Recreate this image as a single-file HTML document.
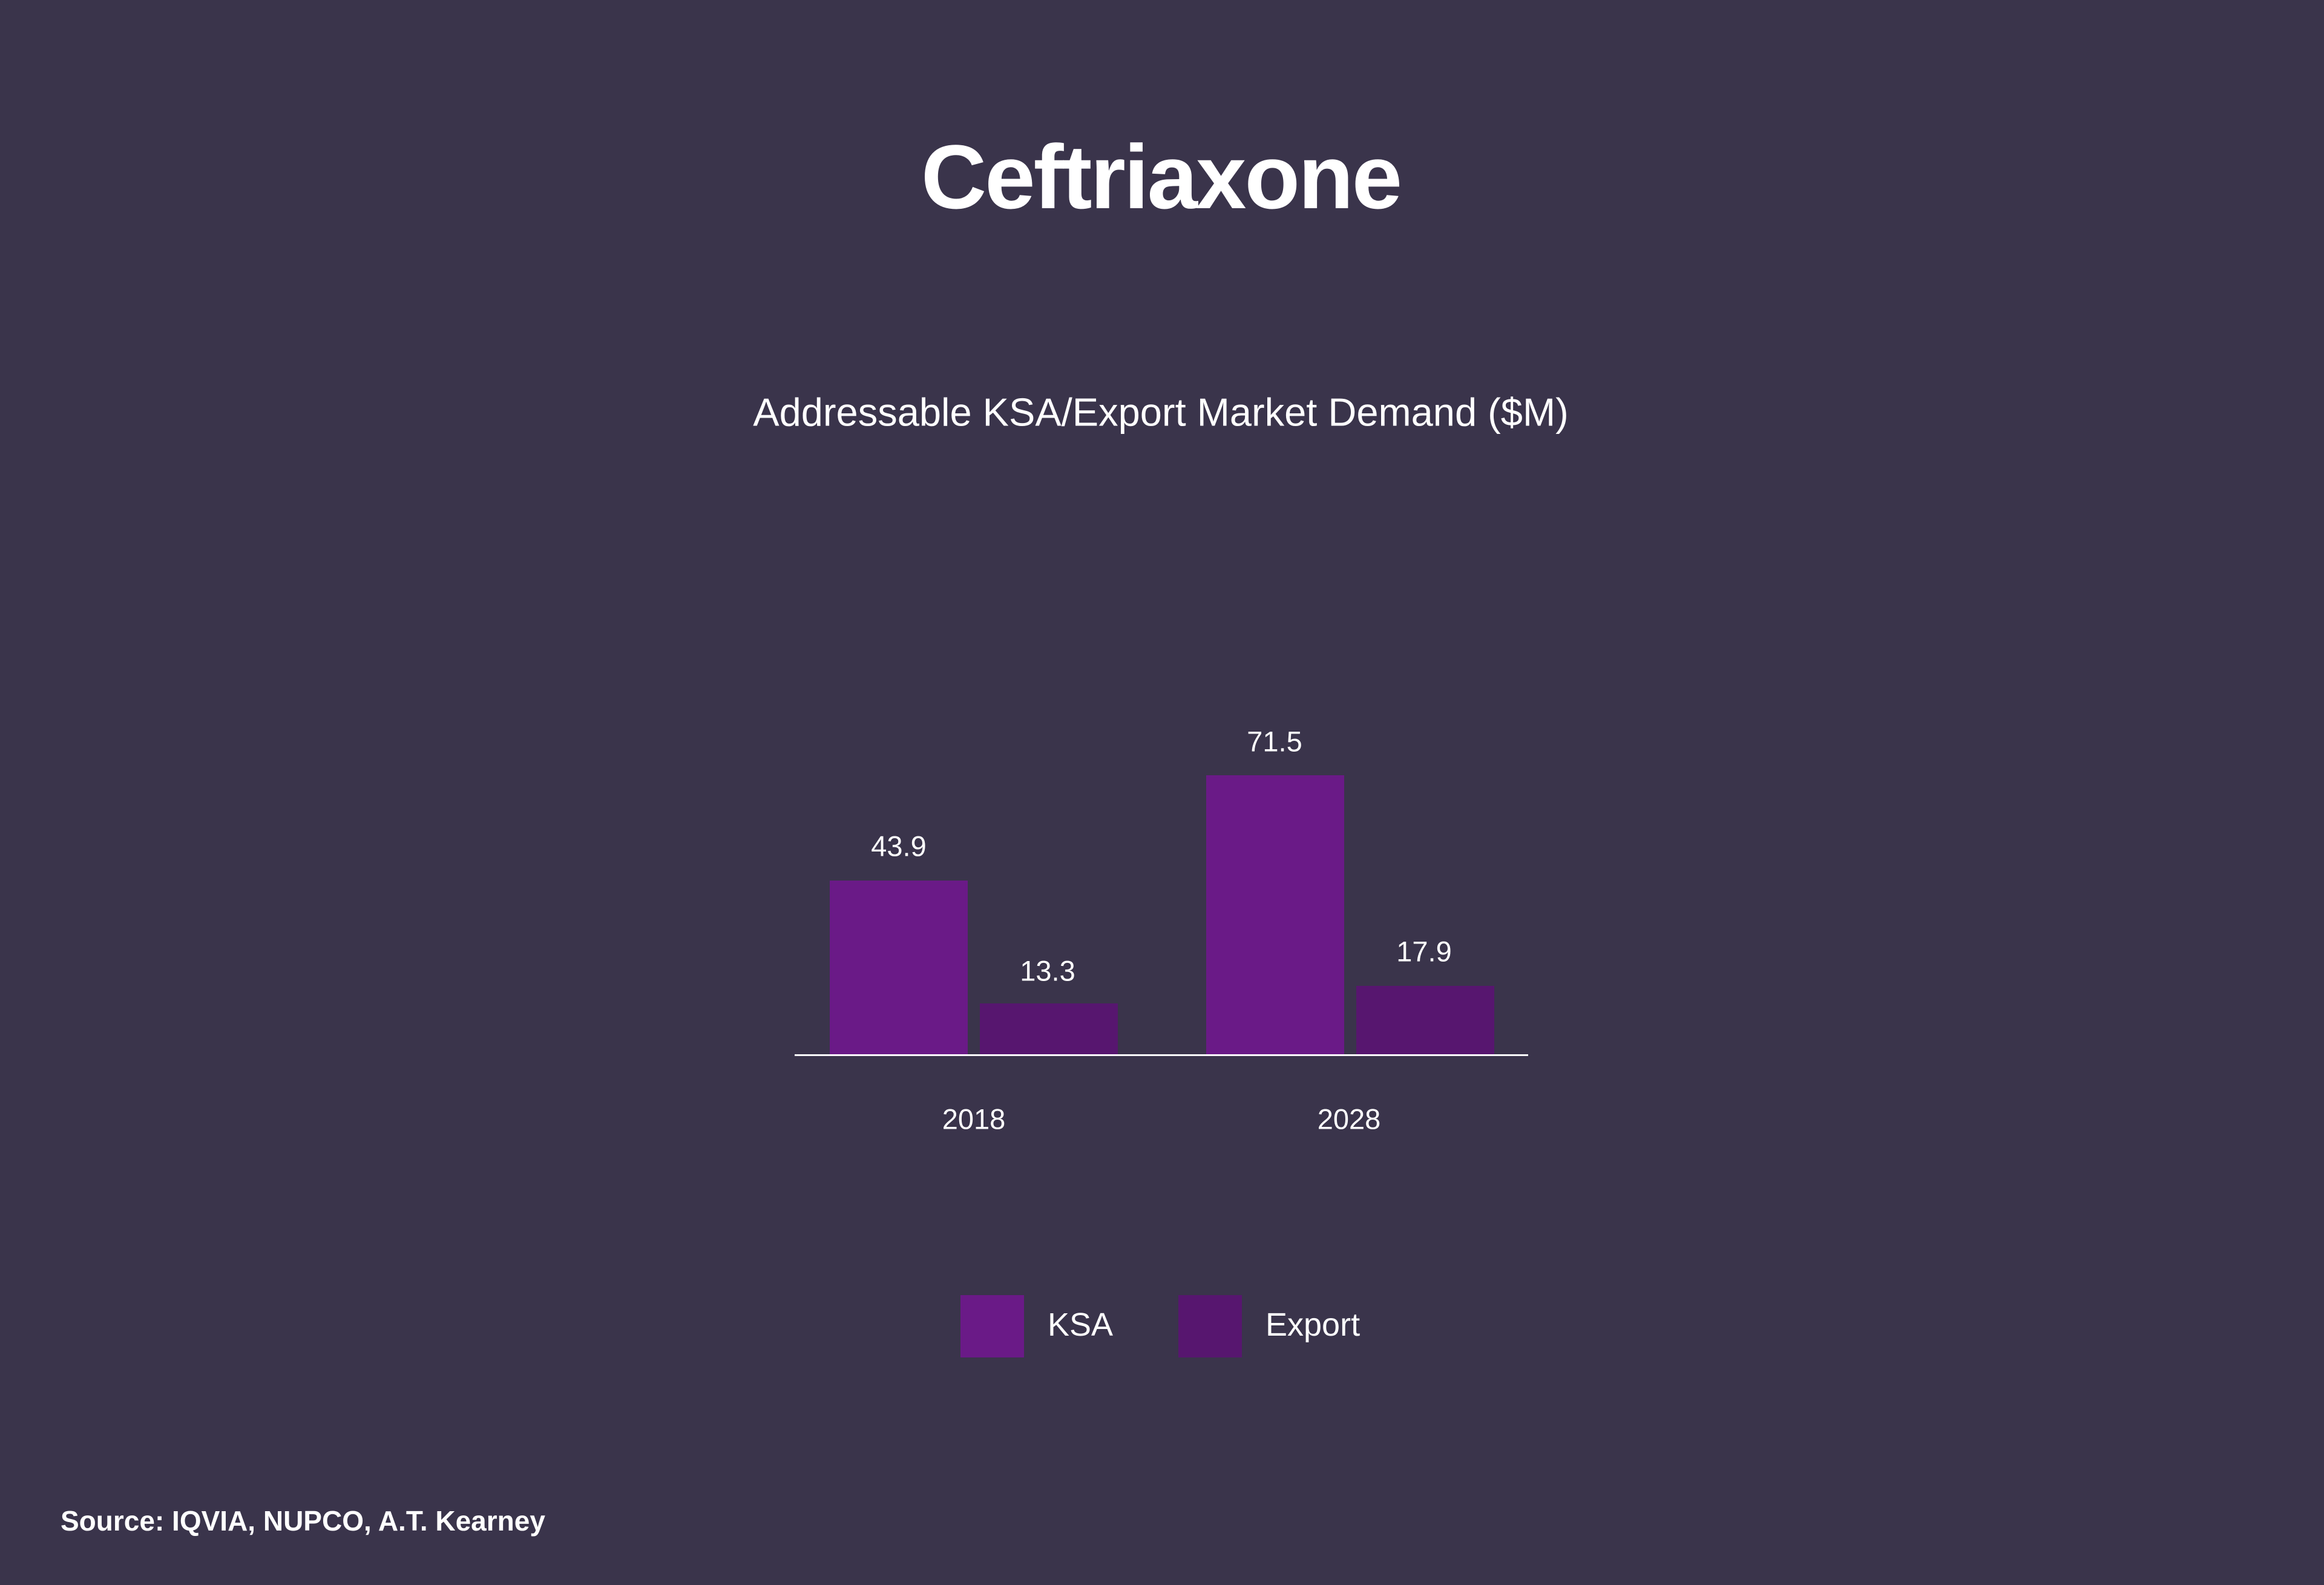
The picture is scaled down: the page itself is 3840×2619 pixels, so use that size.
<!DOCTYPE html>
<html><head><meta charset="utf-8"><style>
body{margin:0;width:3840px;height:2619px;background:#3a344b;position:relative;overflow:hidden;font-family:"Liberation Sans",sans-serif;color:#fff}
.t{position:absolute;white-space:nowrap;transform:translate(-50%,-50%);line-height:1}
.b{position:absolute}
</style></head><body>
<div class="t" style="left:1918px;top:292px;font-size:150px;font-weight:bold;letter-spacing:-3px">Ceftriaxone</div>
<div class="t" style="left:1918px;top:681px;font-size:65px">Addressable KSA/Export Market Demand ($M)</div>
<div class="b" style="left:1371px;top:1455px;width:228px;height:288px;background:#6a1a87"></div>
<div class="b" style="left:1619px;top:1658px;width:228px;height:85px;background:#57166f"></div>
<div class="b" style="left:1993px;top:1281px;width:228px;height:462px;background:#6a1a87"></div>
<div class="b" style="left:2241px;top:1629px;width:228px;height:114px;background:#57166f"></div>
<div class="b" style="left:1313px;top:1742px;width:1212px;height:3px;background:#fff"></div>
<div class="t" style="left:1485px;top:1398px;font-size:47px">43.9</div>
<div class="t" style="left:1731px;top:1604px;font-size:47px">13.3</div>
<div class="t" style="left:2106px;top:1225px;font-size:47px">71.5</div>
<div class="t" style="left:2353px;top:1572px;font-size:47px">17.9</div>
<div class="t" style="left:1609px;top:1849px;font-size:47px">2018</div>
<div class="t" style="left:2229px;top:1849px;font-size:47px">2028</div>
<div class="b" style="left:1587px;top:2140px;width:105px;height:103px;background:#6a1a87"></div>
<div class="b" style="left:1947px;top:2140px;width:105px;height:103px;background:#57166f"></div>
<div class="b" style="left:1731px;top:2162px;font-size:54px;line-height:1">KSA</div>
<div class="b" style="left:2091px;top:2162px;font-size:54px;line-height:1">Export</div>
<div class="b" style="left:100px;top:2490px;font-size:46px;font-weight:bold;line-height:1">Source: IQVIA, NUPCO, A.T. Kearney</div>
</body></html>
